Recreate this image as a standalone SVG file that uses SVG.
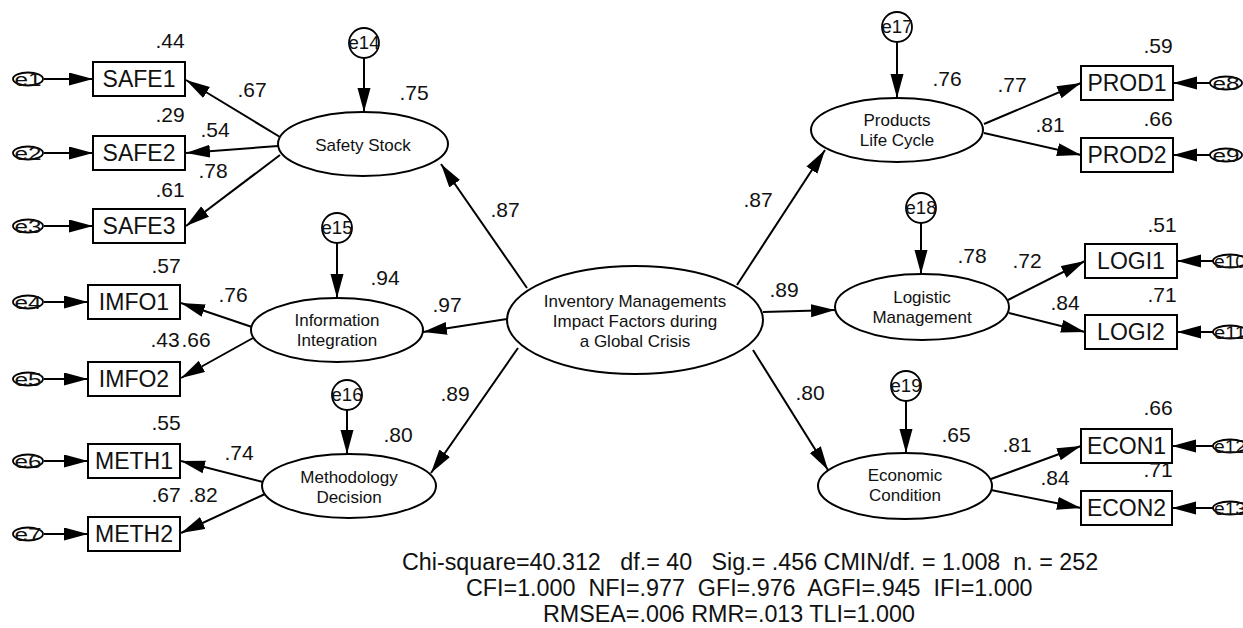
<svg xmlns="http://www.w3.org/2000/svg" width="1243" height="628" viewBox="0 0 1243 628">
  <style>
    .bg { fill: #ffffff; }
    .box { fill: #ffffff; stroke: #000; stroke-width: 2; }
    .lat { fill: #ffffff; stroke: #000; stroke-width: 2; }
    .err { fill: #ffffff; stroke: #000; stroke-width: 1.8; }
    .ln { stroke: #000; stroke-width: 2; fill: none; marker-end: url(#ah); }
    text { font-family: "Liberation Sans", Arial, sans-serif; fill: #111; }
    .obs { font-size: 23px; text-anchor: middle; }
    .ltx { font-size: 17px; text-anchor: middle; }
    .num { font-size: 21px; text-anchor: middle; }
    .etx { font-size: 18px; text-anchor: middle; }
    .fit { font-size: 23.3px; white-space: pre; }
  </style>
  <defs>
    <marker id="ah" markerUnits="userSpaceOnUse" markerWidth="26" markerHeight="14" refX="24" refY="6.5" orient="auto">
      <path d="M0,0 L24,6.5 L0,13 Z" fill="#000"/>
    </marker>
  </defs>
  <rect class="bg" x="0" y="0" width="1243" height="628"/>

  <!-- paths -->
  <g id="connectors">
    <!-- error terms into indicators (left) -->
    <line class="ln" x1="44" y1="79" x2="93" y2="79"/>
    <line class="ln" x1="44" y1="153" x2="93" y2="153"/>
    <line class="ln" x1="44" y1="226" x2="93" y2="226"/>
    <line class="ln" x1="44" y1="302" x2="88" y2="302"/>
    <line class="ln" x1="44" y1="379" x2="88" y2="379"/>
    <line class="ln" x1="44" y1="461" x2="88" y2="461"/>
    <line class="ln" x1="44" y1="534" x2="88" y2="534"/>
    <!-- error terms into indicators (right) -->
    <line class="ln" x1="1210" y1="83" x2="1173" y2="83"/>
    <line class="ln" x1="1210" y1="155" x2="1173" y2="155"/>
    <line class="ln" x1="1213" y1="261" x2="1177" y2="261"/>
    <line class="ln" x1="1213" y1="332" x2="1177" y2="332"/>
    <line class="ln" x1="1213" y1="446" x2="1172" y2="446"/>
    <line class="ln" x1="1213" y1="508" x2="1172" y2="508"/>
    <!-- disturbances into factors -->
    <line class="ln" x1="364" y1="58" x2="364" y2="112"/>
    <line class="ln" x1="337" y1="243" x2="337" y2="298"/>
    <line class="ln" x1="347" y1="410" x2="347" y2="454"/>
    <line class="ln" x1="897" y1="42" x2="897" y2="98"/>
    <line class="ln" x1="921" y1="223" x2="921" y2="274"/>
    <line class="ln" x1="906" y1="401" x2="906" y2="453"/>
    <!-- factor loadings (left) -->
    <line class="ln" x1="280" y1="137" x2="186" y2="80"/>
    <line class="ln" x1="278" y1="146" x2="186" y2="153"/>
    <line class="ln" x1="280" y1="155" x2="186" y2="226"/>
    <line class="ln" x1="252" y1="327" x2="181" y2="303"/>
    <line class="ln" x1="253" y1="338" x2="181" y2="378"/>
    <line class="ln" x1="263" y1="482" x2="181" y2="461"/>
    <line class="ln" x1="265" y1="494" x2="181" y2="533"/>
    <!-- factor loadings (right) -->
    <line class="ln" x1="984" y1="124" x2="1081" y2="83"/>
    <line class="ln" x1="984" y1="133" x2="1081" y2="155"/>
    <line class="ln" x1="1008" y1="300" x2="1085" y2="261"/>
    <line class="ln" x1="1009" y1="313" x2="1085" y2="332"/>
    <line class="ln" x1="991" y1="479" x2="1081" y2="446"/>
    <line class="ln" x1="991" y1="490" x2="1081" y2="508"/>
    <!-- second-order paths -->
    <line class="ln" x1="527" y1="288" x2="441" y2="164"/>
    <line class="ln" x1="507" y1="319" x2="423" y2="332"/>
    <line class="ln" x1="518" y1="348" x2="431" y2="473"/>
    <line class="ln" x1="737" y1="285" x2="825" y2="150"/>
    <line class="ln" x1="763" y1="312" x2="835" y2="310"/>
    <line class="ln" x1="753" y1="350" x2="828" y2="470"/>
  </g>

  <!-- second-order factor -->
  <g id="n-center">
    <ellipse class="lat" cx="635" cy="320" rx="128" ry="54"/>
    <text class="ltx" x="635" y="307">Inventory Managements</text>
    <text class="ltx" x="635" y="327">Impact Factors during</text>
    <text class="ltx" x="635" y="347">a Global Crisis</text>
  </g>

  <!-- first-order factors -->
  <g id="n-safety">
    <ellipse class="lat" cx="363" cy="144" rx="85" ry="32"/>
    <text class="ltx" x="363" y="151">Safety Stock</text>
  </g>
  <g id="n-info">
    <ellipse class="lat" cx="337" cy="330" rx="86" ry="32"/>
    <text class="ltx" x="337" y="326">Information</text>
    <text class="ltx" x="337" y="346">Integration</text>
  </g>
  <g id="n-meth">
    <ellipse class="lat" cx="349" cy="486" rx="87" ry="32"/>
    <text class="ltx" x="349" y="483">Methodology</text>
    <text class="ltx" x="349" y="503">Decision</text>
  </g>
  <g id="n-prod">
    <ellipse class="lat" cx="897" cy="130" rx="86" ry="32"/>
    <text class="ltx" x="897" y="126">Products</text>
    <text class="ltx" x="897" y="146">Life Cycle</text>
  </g>
  <g id="n-logi">
    <ellipse class="lat" cx="922" cy="307" rx="87" ry="33"/>
    <text class="ltx" x="922" y="303">Logistic</text>
    <text class="ltx" x="922" y="323">Management</text>
  </g>
  <g id="n-econ">
    <ellipse class="lat" cx="905" cy="486" rx="87" ry="33"/>
    <text class="ltx" x="905" y="481">Economic</text>
    <text class="ltx" x="905" y="501">Condition</text>
  </g>

  <!-- disturbances -->
  <g id="n-e14"><circle class="err" cx="364" cy="43" r="15"/><text class="etx" x="364" y="49" textLength="31" lengthAdjust="spacingAndGlyphs">e14</text></g>
  <g id="n-e15"><circle class="err" cx="337" cy="228" r="15"/><text class="etx" x="337" y="234" textLength="31" lengthAdjust="spacingAndGlyphs">e15</text></g>
  <g id="n-e16"><circle class="err" cx="347" cy="395" r="15"/><text class="etx" x="347" y="401" textLength="31" lengthAdjust="spacingAndGlyphs">e16</text></g>
  <g id="n-e17"><circle class="err" cx="897" cy="27" r="15"/><text class="etx" x="897" y="33" textLength="31" lengthAdjust="spacingAndGlyphs">e17</text></g>
  <g id="n-e18"><circle class="err" cx="921" cy="208" r="15"/><text class="etx" x="921" y="214" textLength="31" lengthAdjust="spacingAndGlyphs">e18</text></g>
  <g id="n-e19"><circle class="err" cx="906" cy="386" r="15"/><text class="etx" x="906" y="392" textLength="31" lengthAdjust="spacingAndGlyphs">e19</text></g>

  <!-- indicator error terms -->
  <g id="n-e1"><ellipse class="err" cx="28" cy="79" rx="15" ry="6.5"/><text class="etx" x="28" y="85.5" textLength="27" lengthAdjust="spacingAndGlyphs">e1</text></g>
  <g id="n-e2"><ellipse class="err" cx="28" cy="153" rx="15" ry="6.5"/><text class="etx" x="28" y="159.5" textLength="27" lengthAdjust="spacingAndGlyphs">e2</text></g>
  <g id="n-e3"><ellipse class="err" cx="28" cy="226" rx="15" ry="6.5"/><text class="etx" x="28" y="232.5" textLength="27" lengthAdjust="spacingAndGlyphs">e3</text></g>
  <g id="n-e4"><ellipse class="err" cx="28" cy="302" rx="15" ry="6.5"/><text class="etx" x="28" y="308.5" textLength="27" lengthAdjust="spacingAndGlyphs">e4</text></g>
  <g id="n-e5"><ellipse class="err" cx="28" cy="379" rx="15" ry="6.5"/><text class="etx" x="28" y="385.5" textLength="27" lengthAdjust="spacingAndGlyphs">e5</text></g>
  <g id="n-e6"><ellipse class="err" cx="28" cy="461" rx="15" ry="6.5"/><text class="etx" x="28" y="467.5" textLength="27" lengthAdjust="spacingAndGlyphs">e6</text></g>
  <g id="n-e7"><ellipse class="err" cx="28" cy="534" rx="15" ry="6.5"/><text class="etx" x="28" y="540.5" textLength="27" lengthAdjust="spacingAndGlyphs">e7</text></g>
  <g id="n-e8"><ellipse class="err" cx="1226" cy="83" rx="16" ry="6.5"/><text class="etx" x="1226" y="89.5" textLength="27" lengthAdjust="spacingAndGlyphs">e8</text></g>
  <g id="n-e9"><ellipse class="err" cx="1226" cy="155" rx="16" ry="6.5"/><text class="etx" x="1226" y="161.5" textLength="27" lengthAdjust="spacingAndGlyphs">e9</text></g>
  <g id="n-e10"><ellipse class="err" cx="1230" cy="261" rx="17" ry="6.5"/><text class="etx" x="1230" y="267.5" textLength="32" lengthAdjust="spacingAndGlyphs">e10</text></g>
  <g id="n-e11"><ellipse class="err" cx="1230" cy="332" rx="17" ry="6.5"/><text class="etx" x="1230" y="338.5" textLength="32" lengthAdjust="spacingAndGlyphs">e11</text></g>
  <g id="n-e12"><ellipse class="err" cx="1230" cy="446" rx="17" ry="6.5"/><text class="etx" x="1230" y="452.5" textLength="32" lengthAdjust="spacingAndGlyphs">e12</text></g>
  <g id="n-e13"><ellipse class="err" cx="1230" cy="508" rx="17" ry="6.5"/><text class="etx" x="1230" y="514.5" textLength="32" lengthAdjust="spacingAndGlyphs">e13</text></g>

  <!-- observed indicators -->
  <g id="n-safe1"><rect class="box" x="93" y="62" width="92" height="34"/><text class="obs" x="139" y="87">SAFE1</text></g>
  <g id="n-safe2"><rect class="box" x="93" y="136" width="92" height="34"/><text class="obs" x="139" y="161">SAFE2</text></g>
  <g id="n-safe3"><rect class="box" x="93" y="209" width="92" height="34"/><text class="obs" x="139" y="234">SAFE3</text></g>
  <g id="n-imfo1"><rect class="box" x="88" y="285" width="92" height="34"/><text class="obs" x="134" y="310">IMFO1</text></g>
  <g id="n-imfo2"><rect class="box" x="88" y="362" width="92" height="34"/><text class="obs" x="134" y="387">IMFO2</text></g>
  <g id="n-meth1"><rect class="box" x="88" y="444" width="92" height="34"/><text class="obs" x="134" y="469">METH1</text></g>
  <g id="n-meth2"><rect class="box" x="88" y="517" width="92" height="34"/><text class="obs" x="134" y="542">METH2</text></g>
  <g id="n-prod1"><rect class="box" x="1081" y="66" width="92" height="34"/><text class="obs" x="1127" y="91">PROD1</text></g>
  <g id="n-prod2"><rect class="box" x="1081" y="138" width="92" height="34"/><text class="obs" x="1127" y="163">PROD2</text></g>
  <g id="n-logi1"><rect class="box" x="1085" y="244" width="92" height="34"/><text class="obs" x="1131" y="269">LOGI1</text></g>
  <g id="n-logi2"><rect class="box" x="1085" y="315" width="92" height="34"/><text class="obs" x="1131" y="340">LOGI2</text></g>
  <g id="n-econ1"><rect class="box" x="1081" y="429" width="91" height="34"/><text class="obs" x="1126.5" y="454">ECON1</text></g>
  <g id="n-econ2"><rect class="box" x="1081" y="491" width="91" height="34"/><text class="obs" x="1126.5" y="516">ECON2</text></g>

  <!-- estimates -->
  <g id="estimates">
    <text class="num" x="170" y="48">.44</text>
    <text class="num" x="170" y="122">.29</text>
    <text class="num" x="170" y="197">.61</text>
    <text class="num" x="252" y="97">.67</text>
    <text class="num" x="215" y="137">.54</text>
    <text class="num" x="213" y="178">.78</text>
    <text class="num" x="414" y="100">.75</text>
    <text class="num" x="166" y="273">.57</text>
    <text class="num" x="233" y="302">.76</text>
    <text class="num" x="165" y="347">.43</text>
    <text class="num" x="196" y="347">.66</text>
    <text class="num" x="385" y="285">.94</text>
    <text class="num" x="166" y="430">.55</text>
    <text class="num" x="239" y="460">.74</text>
    <text class="num" x="166" y="502">.67</text>
    <text class="num" x="203" y="502">.82</text>
    <text class="num" x="398" y="442">.80</text>
    <text class="num" x="505" y="217">.87</text>
    <text class="num" x="447" y="312">.97</text>
    <text class="num" x="455" y="401">.89</text>
    <text class="num" x="758" y="207">.87</text>
    <text class="num" x="784" y="297">.89</text>
    <text class="num" x="810" y="400">.80</text>
    <text class="num" x="947" y="86">.76</text>
    <text class="num" x="1012" y="92">.77</text>
    <text class="num" x="1050" y="132">.81</text>
    <text class="num" x="1158" y="53">.59</text>
    <text class="num" x="1158" y="126">.66</text>
    <text class="num" x="972" y="263">.78</text>
    <text class="num" x="1027" y="268">.72</text>
    <text class="num" x="1065" y="310">.84</text>
    <text class="num" x="1162" y="232">.51</text>
    <text class="num" x="1162" y="302">.71</text>
    <text class="num" x="956" y="442">.65</text>
    <text class="num" x="1017" y="452">.81</text>
    <text class="num" x="1055" y="485">.84</text>
    <text class="num" x="1158" y="415">.66</text>
    <text class="num" x="1158" y="477">.71</text>
  </g>

  <!-- fit statistics -->
  <g id="fit">
    <text class="fit" x="402" y="570" xml:space="preserve">Chi-square=40.312   df.= 40   Sig.= .456 CMIN/df. = 1.008  n. = 252</text>
    <text class="fit" x="466" y="596" xml:space="preserve">CFI=1.000  NFI=.977  GFI=.976  AGFI=.945  IFI=1.000</text>
    <text class="fit" x="543" y="622" xml:space="preserve">RMSEA=.006 RMR=.013 TLI=1.000</text>
  </g>
</svg>
